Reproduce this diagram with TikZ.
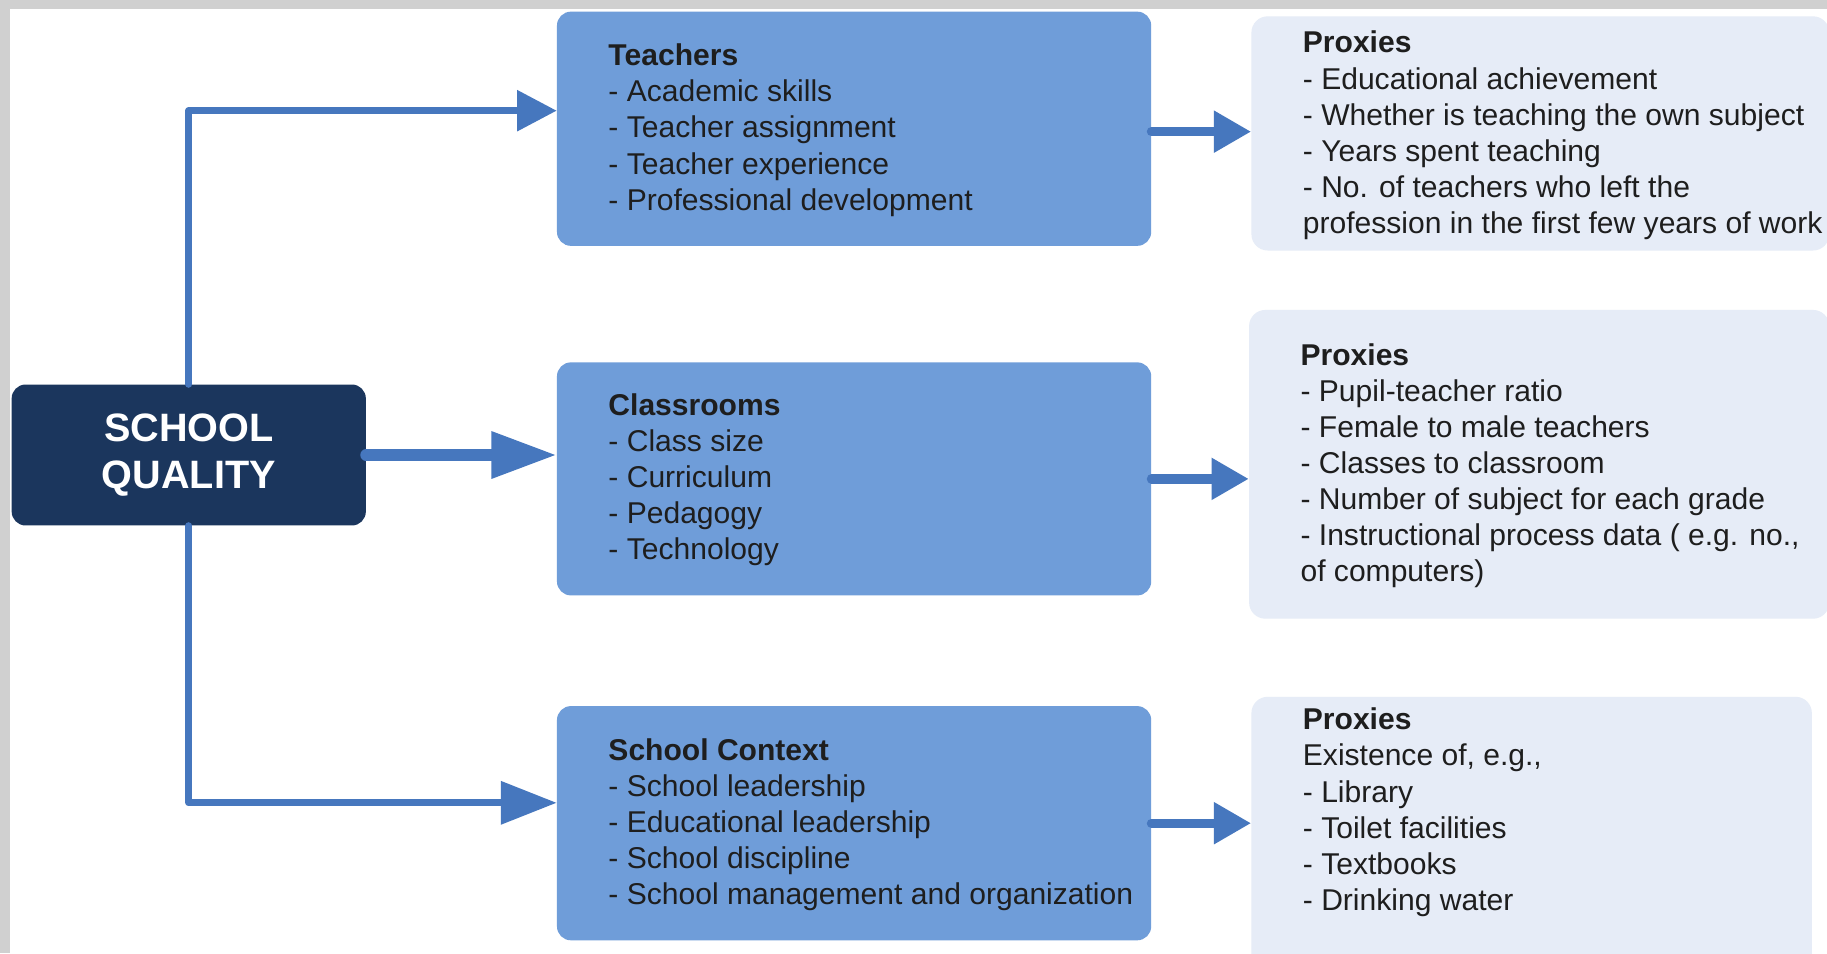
\documentclass[tikz,border=0pt]{standalone}
\usepackage{fontspec}
\setmainfont{Liberation Sans}
\usetikzlibrary{arrows.meta}
\definecolor{navy}{HTML}{1B365D}
\definecolor{boxblue}{HTML}{6F9DD9}
\definecolor{proxybg}{HTML}{E6ECF7}
\definecolor{arrowblue}{HTML}{4677BE}
\definecolor{txt}{HTML}{1E1E1E}
\definecolor{bggray}{HTML}{D0D0D0}
\begin{document}
\begin{tikzpicture}[x=1pt,y=-1pt,
  catbox/.style={fill=boxblue,rounded corners=12pt,inner sep=0pt},
  proxybox/.style={fill=proxybg,rounded corners=14pt,inner sep=0pt},
  mainbox/.style={fill=navy,rounded corners=12pt,inner sep=0pt,text=white,
    font=\bfseries\fontsize{34}{40}\selectfont,align=center},
  bodytext/.style={anchor=north west,inner sep=0pt,align=left,text=txt,
    font=\fontsize{25.8}{31}\selectfont},
  thinlink/.style={draw=arrowblue,line width=6pt,line cap=round,line join=round},
  midlink/.style={draw=arrowblue,line width=10pt,line cap=round,
    -{Triangle[length=56pt,width=38pt]}},
  outlink/.style={draw=arrowblue,line width=8pt,line cap=round,
    -{Triangle[length=32pt,width=34pt]}}
]
\useasboundingbox (0,0) rectangle (1568,818);
\clip (0,0) rectangle (1568,818);
% background
\fill[bggray] (0,0) rectangle (1568,818);
\fill[white] (9,8) rectangle (1580,830);

% main box
\node[mainbox,minimum width=304pt,minimum height=121pt] (sq) at (162,390.5) {SCHOOL\\QUALITY};

% category boxes
\node[catbox,minimum width=510pt,minimum height=201pt] (teachers) at (733,110.5) {};
\node[catbox,minimum width=510pt,minimum height=200pt] (classrooms) at (733,411) {};
\node[catbox,minimum width=510pt,minimum height=201pt] (context) at (733,706.5) {};

% proxy boxes
\node[proxybox,minimum width=496pt,minimum height=201pt] (p1) at (1322,114.5) {};
\node[proxybox,minimum width=498pt,minimum height=265pt] (p2) at (1321,398.5) {};
\node[proxybox,minimum width=481pt,minimum height=260pt] (p3) at (1314.5,728) {};

% texts
\node[bodytext] (teachersText) at (522,37.5) {\textbf{Teachers}\\- Academic skills\\- Teacher assignment\\- Teacher experience\\- Professional development};
\node[bodytext] (classroomsText) at (522,337.5) {\textbf{Classrooms}\\- Class size\\- Curriculum\\- Pedagogy\\- Technology};
\node[bodytext] (contextText) at (522,633.5) {\textbf{School Context}\\- School leadership\\- Educational leadership\\- School discipline\\- School management and organization};
\node[bodytext] (p1Text) at (1118,26.5) {\textbf{Proxies}\\- Educational achievement\\- Whether is teaching the own subject\\- Years spent teaching\\- No. of teachers who left the\\profession in the first few years of work};
\node[bodytext] (p2Text) at (1116,294.5) {\textbf{Proxies}\\- Pupil-teacher ratio\\- Female to male teachers\\- Classes to classroom\\- Number of subject for each grade\\- Instructional process data ( e.g. no.,\\of computers)};
\node[bodytext] (p3Text) at (1118,607.5) {\textbf{Proxies}\\Existence of, e.g.,\\- Library\\- Toilet facilities\\- Textbooks\\- Drinking water};

% connectors
\draw[thinlink,-{Triangle[length=34pt,width=34pt]}] (sq.north) |- ([yshift=15.5pt]teachers.west);
\draw[midlink] (sq.east) -- (sq.east -| classrooms.west);
\draw[thinlink,-{Triangle[length=48pt,width=36pt]}] (sq.south) |- ([yshift=17.5pt]context.west);
\draw[outlink] ([yshift=-2.5pt]teachers.east) -- ([yshift=-2.5pt]teachers.east -| p1.west);
\draw[outlink] (classrooms.east) -- (classrooms.east -| p2.west);
\draw[outlink] (context.east) -- (context.east -| p3.west);
\end{tikzpicture}
\end{document}
